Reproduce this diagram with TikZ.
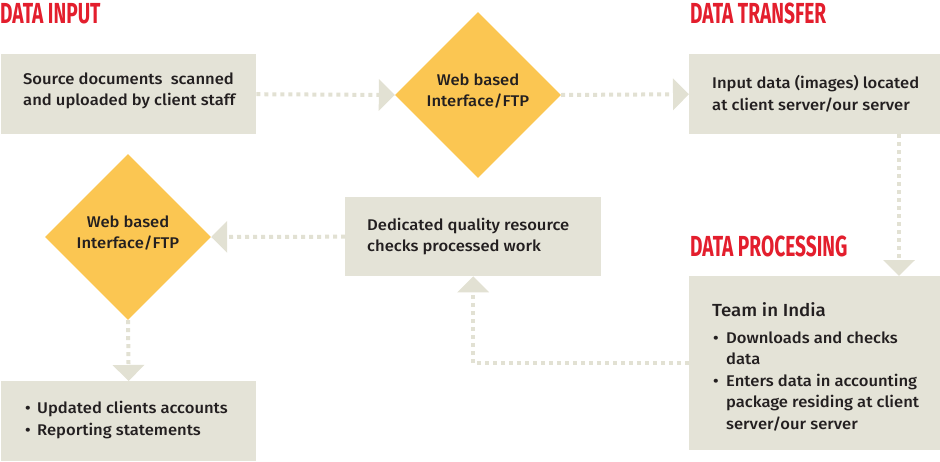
\documentclass[tikz,border=0pt]{standalone}
\usepackage{fontspec}
\setmainfont{Fira Sans}[UprightFont=* Medium, FakeStretch=1.07]
\newfontfamily\headfont{Fira Sans}[UprightFont=* Bold, FakeStretch=0.66]
\usetikzlibrary{shapes.geometric,arrows.meta}
\definecolor{boxc}{HTML}{E4E3D7}
\definecolor{linec}{HTML}{E2E1D3}
\definecolor{yellowc}{HTML}{FBC652}
\definecolor{redc}{HTML}{E31E2D}
\definecolor{txt}{HTML}{231F20}
\newcommand\bodyfs{\fontsize{15.5}{21.5}\selectfont}
\newcommand\bul[1]{\makebox[#1][l]{\textbullet}}
\begin{document}
\begin{tikzpicture}[x=1pt,y=-1pt,
  box/.style={fill=boxc, draw=none, inner sep=0pt, anchor=north west},
  dia/.style={diamond, fill=yellowc, draw=none, minimum width=166pt, minimum height=166pt, inner sep=0pt},
  txtn/.style={align=left, font=\bodyfs, text=txt, inner sep=0pt, anchor=west},
  ctxt/.style={align=center, font=\bodyfs, text=txt, inner sep=0pt},
  head/.style={font=\headfont\fontsize{29}{29}\selectfont, text=redc, inner sep=0pt, anchor=base west},
  conn/.style={draw=linec, line width=4pt, dash pattern=on 4pt off 4pt, -{Triangle[width=31pt,length=16pt]}}]
\useasboundingbox (0,0) rectangle (940,461);

% headings
\node[head] (h1) at (0,23) {DATA INPUT};
\node[head] (h2) at (690,23) {DATA TRANSFER};
\node[head] (h3) at (690,256) {DATA PROCESSING};

% boxes
\node[box, minimum width=255pt, minimum height=80pt] (b1) at (1,54) {};
\node[box, minimum width=251pt, minimum height=80pt] (dt) at (689,54) {};
\node[box, minimum width=251pt, minimum height=174pt] (dp) at (689,276) {};
\node[box, minimum width=256pt, minimum height=79pt] (qc) at (345,197) {};
\node[box, minimum width=255pt, minimum height=80pt] (bl) at (1,381) {};

% diamonds
\node[dia] (d1) at (478,95) {};
\node[dia] (d2) at (128,237) {};

% connectors
\draw[conn] (b1.east) -- (d1.west);
\draw[conn] (d1.east) -- (dt.west);
\draw[conn] ([xshift=210pt]dt.south west) -- ([xshift=210pt]dp.north west);
\draw[conn] (dp.west) -| (qc.south);
\draw[conn] (qc.west) -- (d2.east);
\draw[conn] (d2.south) -- (bl.north);

% texts
\node[txtn] (t1) at (23,91) {Source documents\ \ scanned\\and uploaded by client staff};
\node[ctxt] (t2) at ([yshift=4pt]d1.center) {Web based\\Interface/FTP};
\node[txtn] (t3) at (712,93.5) {Input data (images) located\\at client server/our server};
\node[txtn] (t4) at (367,236.5) {Dedicated quality resource\\checks processed work};
\node[ctxt] (t5) at ([yshift=4pt]d2.center) {Web based\\Interface/FTP};
\node[txtn] (t6) at (25,420) {\bul{12pt}Updated clients accounts\\\bul{12pt}Reporting statements};
\node[txtn, font=\fontsize{17.5}{21}\selectfont] (t7) at (712,310) {Team in India};
\node[txtn] (t8) at (713,381) {\bul{13pt}Downloads and checks\\\hspace*{13pt}data\\\bul{13pt}Enters data in accounting\\\hspace*{13pt}package residing at client\\\hspace*{13pt}server/our server};
\end{tikzpicture}
\end{document}
